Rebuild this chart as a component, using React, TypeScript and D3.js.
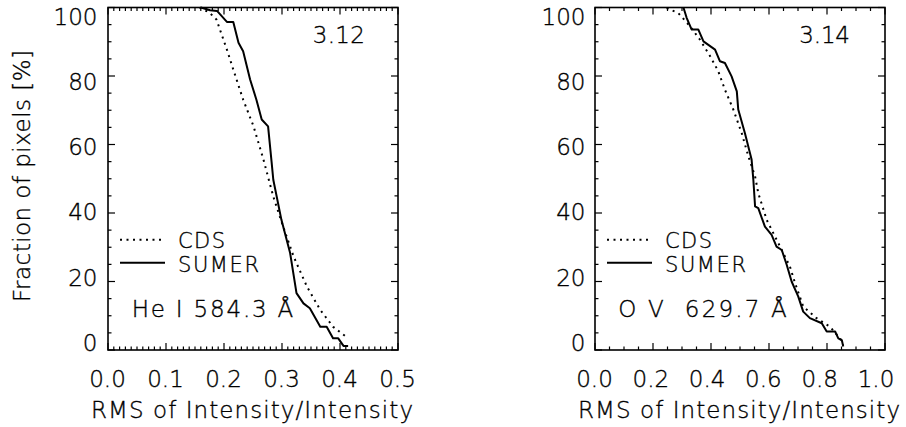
import React from "react";
import * as d3 from "d3";

// ---------- data ----------
const heSumer: [number, number][] = [
  [0.16, 100], [0.176, 99.2], [0.188, 99], [0.205, 95.8], [0.216, 95.8], [0.225, 89.7],
  [0.233, 87.2], [0.245, 79], [0.256, 73], [0.265, 67.3], [0.276, 65.3], [0.282, 55],
  [0.285, 49.7], [0.299, 38], [0.314, 28.3], [0.325, 16.6], [0.337, 13.6], [0.348, 12.2],
  [0.366, 6.8], [0.377, 6.8], [0.388, 3.4], [0.397, 3.4], [0.406, 1.2], [0.414, 1.2],
];
const heCds: [number, number][] = [
  [0.158, 100], [0.175, 98.5], [0.187, 96.5], [0.205, 87.7], [0.216, 81.9], [0.233, 73.1],
  [0.251, 65.3], [0.268, 55.6], [0.285, 44.8], [0.302, 36], [0.32, 27.3], [0.343, 18.5],
  [0.366, 11.7], [0.388, 6.8], [0.414, 3.4],
];
const ovSumer: [number, number][] = [
  [0.305, 100], [0.316, 97], [0.333, 93.6], [0.356, 93.6], [0.374, 90.1], [0.414, 87.7],
  [0.431, 84.3], [0.448, 83.8], [0.471, 79.9], [0.489, 75.5], [0.494, 70.2], [0.517, 63.3],
  [0.54, 55.6], [0.546, 49.7], [0.552, 41.9], [0.563, 41.4], [0.586, 36], [0.609, 33.6],
  [0.626, 30.2], [0.644, 29.2], [0.661, 24.9], [0.678, 20], [0.701, 15.6], [0.718, 11.2],
  [0.741, 9.3], [0.782, 7.8], [0.799, 5.4], [0.828, 5.4], [0.839, 3.4], [0.851, 2.9],
  [0.856, 1.0],
];
const ovCds: [number, number][] = [
  [0.247, 99.8], [0.287, 98.4], [0.328, 94.5], [0.362, 90.6], [0.397, 85.8], [0.425, 81.4],
  [0.448, 76], [0.477, 70.2], [0.506, 63.3], [0.529, 56.5], [0.552, 50.7], [0.563, 45.8],
  [0.592, 38], [0.638, 30.2], [0.672, 24.4], [0.69, 19.5], [0.718, 12.7], [0.764, 9.3],
  [0.81, 6.8], [0.845, 3.4], [0.856, 1.5],
];
const leftXTicks = [0, 0.1, 0.2, 0.3, 0.4, 0.5];
const rightXTicks = [0, 0.2, 0.4, 0.6, 0.8, 1.0];
const yTicks = [0, 20, 40, 60, 80, 100];
const legendNames = ["CDS", "SUMER"];
const lineNames = ["He I 584.3 Å", "O V  629.7 Å"];
const panelValues = ["3.12", "3.14"];
const xTitle = "RMS of Intensity/Intensity";
const yTitle = "Fraction of pixels [%]";

const FONT = "'DejaVu Sans', sans-serif";
const FS = 23;
const txt = { fontFamily: FONT, fontSize: FS, fontWeight: 200, stroke: "#000", strokeWidth: 0.35 } as const;
const legTxt = { ...txt, fontSize: 21 } as const;

type PanelProps = {
  x0: number; x1: number;
  xMax: number; xTicks: number[]; xMinorStep: number;
  xLabelRange: [number, number];
  sumer: [number, number][]; cds: [number, number][];
  value: string; valueX: number; valueW: number;
  lineName: string; lineNameW: number; lineNameX: number;
  ylabelRight: number;
};

const TOP = 7.5, BOT = 350;

function Panel(p: PanelProps) {
  const x = d3.scaleLinear().domain([0, p.xMax]).range([p.x0, p.x1]);
  const y = d3.scaleLinear().domain([0, 100]).range([BOT, TOP]);
  const xl = d3.scaleLinear().domain([0, p.xMax]).range(p.xLabelRange);
  const yl = d3.scaleLinear().domain([0, 100]).range([342.5, 16.5]);
  const line = d3.line<[number, number]>().x(d => x(d[0])).y(d => y(d[1]));
  const xMinor = d3.range(0, p.xMax + 1e-9, p.xMinorStep);
  const yMinor = d3.range(0, 100 + 1e-9, 5);
  const isMajorX = (v: number) => p.xTicks.some(t => Math.abs(t - v) < 1e-6);
  const isMajorY = (v: number) => yTicks.some(t => Math.abs(t - v) < 1e-6);
  const MJ = 7, MN = 3.5;
  const lx = p.x0 + 12;
  return (
    <g>
      {xMinor.map((v, i) => {
        const L = isMajorX(v) ? MJ : MN;
        return (
          <g key={"xt" + i}>
            <line x1={x(v)} x2={x(v)} y1={BOT} y2={BOT - L} stroke="#000" strokeWidth={1.2} />
            <line x1={x(v)} x2={x(v)} y1={TOP} y2={TOP + L} stroke="#000" strokeWidth={1.2} />
          </g>
        );
      })}
      {yMinor.map((v, i) => {
        const L = isMajorY(v) ? MJ : MN;
        return (
          <g key={"yt" + i}>
            <line x1={p.x0} x2={p.x0 + L} y1={y(v)} y2={y(v)} stroke="#000" strokeWidth={1.2} />
            <line x1={p.x1} x2={p.x1 - L} y1={y(v)} y2={y(v)} stroke="#000" strokeWidth={1.2} />
          </g>
        );
      })}
      <rect x={p.x0} y={TOP} width={p.x1 - p.x0} height={BOT - TOP} fill="none" stroke="#000" strokeWidth={1.6} />
      <path d={line(p.cds) || ""} fill="none" stroke="#000" strokeWidth={2} strokeDasharray="2 4.5" />
      <path d={line(p.sumer) || ""} fill="none" stroke="#000" strokeWidth={2} strokeLinejoin="round" />
      {p.xTicks.map((v, i) => (
        <text key={"xl" + i} x={xl(v)} y={387} textAnchor="middle" {...txt}>
          {v.toFixed(1)}
        </text>
      ))}
      {yTicks.map((v, i) => (
        <text key={"yl" + i} x={p.ylabelRight} y={yl(v) + 0.365 * FS} textAnchor="end" {...txt}>
          {String(v)}
        </text>
      ))}
      <text x={(p.x0 + p.x1) / 2 - 1} y={418} textAnchor="middle" {...txt}
        textLength={322} lengthAdjust="spacing">{xTitle}</text>
      <text x={p.valueX} y={42.5} {...txt} textLength={p.valueW} lengthAdjust="spacing">{p.value}</text>
      <line x1={lx} x2={lx + 42} y1={y(32.2)} y2={y(32.2)} stroke="#000" strokeWidth={2} strokeDasharray="2 4.5" />
      <line x1={lx} x2={lx + 45} y1={y(25.5)} y2={y(25.5)} stroke="#000" strokeWidth={2} />
      <text x={lx + 58} y={247.6} {...legTxt} textLength={47} lengthAdjust="spacing">{legendNames[0]}</text>
      <text x={lx + 58} y={272.2} {...legTxt} textLength={81} lengthAdjust="spacing">{legendNames[1]}</text>
      <text x={p.lineNameX} y={316.7} {...txt}
        textLength={p.lineNameW} lengthAdjust="spacing" style={{ whiteSpace: "pre" }}>{p.lineName}</text>
    </g>
  );
}

export default function App() {
  return (
    <svg width={906} height={427} style={{ position: "absolute", left: 0, top: 0, background: "#fff" }}>
      <rect width={906} height={427} fill="#fff" />
      <Panel x0={108} x1={398} xMax={0.5} xTicks={leftXTicks} xMinorStep={0.01}
        xLabelRange={[107.5, 397.5]} sumer={heSumer} cds={heCds}
        value={panelValues[0]} valueX={312.7} valueW={52.3}
        lineName={lineNames[0]} lineNameW={161.6} lineNameX={131.7} ylabelRight={97.5} />
      <Panel x0={595} x1={885} xMax={1.0} xTicks={rightXTicks} xMinorStep={0.05}
        xLabelRange={[594.5, 876]} sumer={ovSumer} cds={ovCds}
        value={panelValues[1]} valueX={799.3} valueW={50.7}
        lineName={lineNames[1]} lineNameW={168.4} lineNameX={618.3} ylabelRight={585.5} />
      <text transform="translate(30,176) rotate(-90)" textAnchor="middle" {...txt}
        textLength={252} lengthAdjust="spacing">{yTitle}</text>
    </svg>
  );
}
